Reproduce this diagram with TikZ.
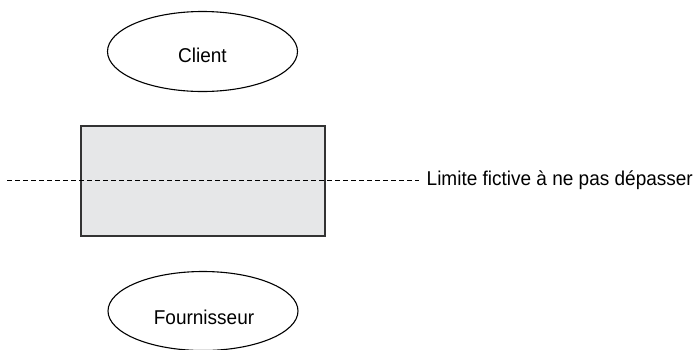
\documentclass[tikz,border=0pt]{standalone}
\usepackage{fontspec}
\setmainfont[FakeStretch=0.95]{Liberation Sans}
\usetikzlibrary{shapes.geometric}
\definecolor{boxgray}{HTML}{E6E7E8}
\definecolor{boxedge}{HTML}{333333}
\tikzset{
  actor/.style={draw=black, line width=1.1pt, ellipse, minimum width=190pt, minimum height=80pt, inner sep=0pt},
  lbl/.style={font=\fontsize{20}{23}\selectfont, inner sep=0pt, anchor=base},
  sysbox/.style={draw=boxedge, fill=boxgray, line width=1.4pt, minimum width=244pt, minimum height=110pt, inner sep=0pt},
  limit/.style={line width=1.1pt, dash pattern=on 5pt off 3pt}
}
\begin{document}
\begin{tikzpicture}[x=1pt,y=-1pt]
\useasboundingbox (0,0) rectangle (696,349);
\node[actor] (client) at (202.5,51.5) {};
\node[lbl] (clienttxt) at (202.5,62.7) {Client};
\node[sysbox] (sys) at (203,181) {};
\node[actor, minimum height=79pt] (four) at (203,311) {};
\node[lbl] (fourtxt) at (204,324.3) {Fournisseur};
\coordinate (lstart) at (7,180.7);
\node[lbl, anchor=base west] (limtxt) at (426.5,185) {Limite fictive à ne pas dépasser};
\coordinate (lend) at (419,180.7);
\draw[limit] (lstart) -- (lend);
\end{tikzpicture}
\end{document}
